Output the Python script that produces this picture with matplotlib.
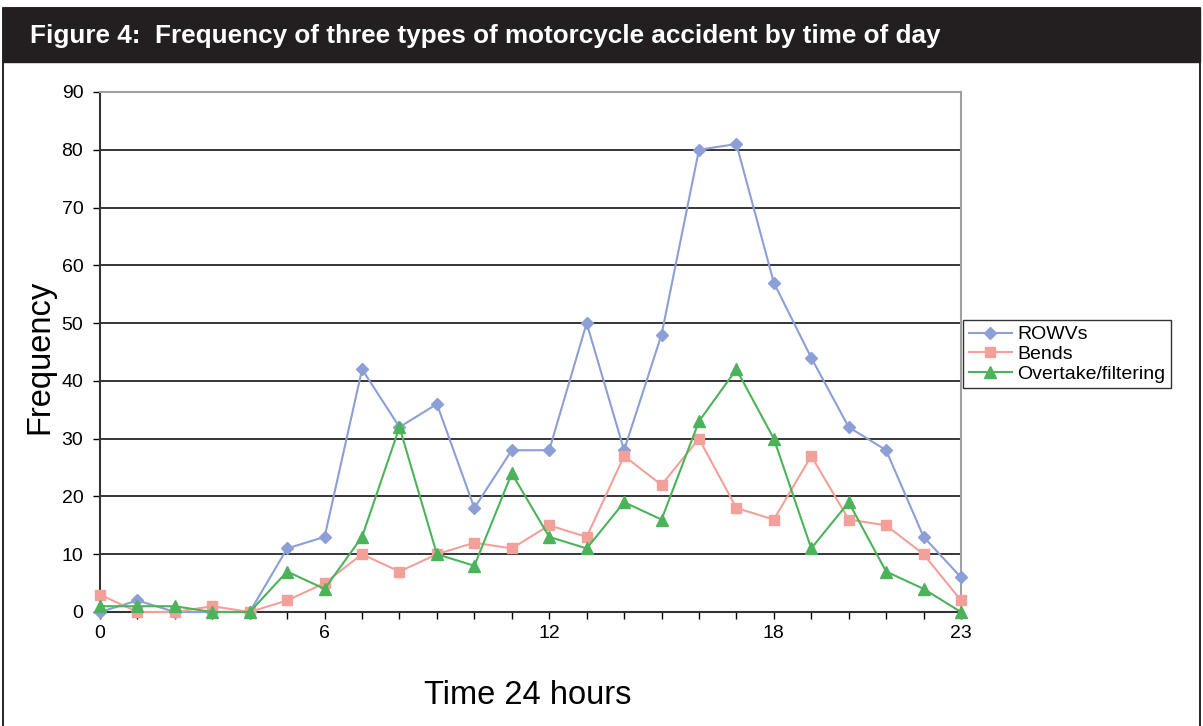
import matplotlib.pyplot as plt
from matplotlib.patches import Rectangle

# Dados
horas = list(range(24))
rowvs = [0, 2, 0, 0, 0, 11, 13, 42, 32, 36, 18, 28, 28, 50, 28, 48, 80, 81, 57, 44, 32, 28, 13, 6]
bends = [3, 0, 0, 1, 0, 2, 5, 10, 7, 10, 12, 11, 15, 13, 27, 22, 30, 18, 16, 27, 16, 15, 10, 2]
overtake = [1, 1, 1, 0, 0, 7, 4, 13, 32, 10, 8, 24, 13, 11, 19, 16, 33, 42, 30, 11, 19, 7, 4, 0]
rotulos_x = {0: "0", 6: "6", 12: "12", 18: "18", 23: "23"}

plt.rcParams["font.family"] = ["Liberation Sans", "DejaVu Sans"]

W, H = 1203, 726
fig = plt.figure(figsize=(W / 100, H / 100), dpi=100)

# Moldura e barra de titulo
fig.patches.append(Rectangle((3 / W, -0.01), (1197 / W), 1 - 8 / H + 0.01, transform=fig.transFigure,
                             fill=False, edgecolor="black", linewidth=1.2))
fig.patches.append(Rectangle((3 / W, 1 - 62 / H), 1197 / W, 54 / H, transform=fig.transFigure,
                             facecolor="#231f20", edgecolor="#231f20"))
fig.text(30 / W, 1 - 36 / H, "Figure 4:  Frequency of three types of motorcycle accident by time of day",
         color="white", fontsize=18.8, fontweight="bold", va="center", ha="left")

ax = fig.add_axes([100 / W, 1 - 612 / H, 861 / W, 520 / H])
l1, = ax.plot(horas, rowvs, color="#8c9fd6", marker="D", markersize=6.5, linewidth=1.5,
              label="ROWVs", clip_on=False, zorder=4)
l2, = ax.plot(horas, bends, color="#f4a09a", marker="s", markersize=7, linewidth=1.5,
              label="Bends", clip_on=False, zorder=4)
l3, = ax.plot(horas, overtake, color="#4db35a", marker="^", markersize=8, linewidth=1.5,
              label="Overtake/filtering", clip_on=False, zorder=4)

ax.set_xlim(0, 23)
ax.set_ylim(0, 90)
ax.set_yticks(range(0, 91, 10))
ax.set_xticks(horas)
ax.set_xticklabels([rotulos_x.get(h, "") for h in horas], fontsize=14)
ax.set_yticklabels([str(v) for v in range(0, 91, 10)], fontsize=14)
ax.tick_params(axis="both", direction="out", length=5, width=1, colors="black")
ax.tick_params(axis="x", pad=4)
ax.tick_params(axis="y", pad=7)
ax.yaxis.grid(True, color="black", linewidth=1.1)
ax.set_axisbelow(True)
ax.spines["top"].set_color("#a0a0a0")
ax.spines["right"].set_color("#a0a0a0")
ax.spines["top"].set_linewidth(1.5)
ax.spines["right"].set_linewidth(1.5)
ax.spines["left"].set_color("#333333")
ax.spines["bottom"].set_color("#333333")
ax.spines["left"].set_linewidth(1.5)
ax.spines["bottom"].set_linewidth(1.5)

fig.text(40 / W, 1 - 357 / H, "Frequency", fontsize=23.5, rotation=90, va="center", ha="center")
fig.text(528 / W, 1 - 695 / H, "Time 24 hours", fontsize=23.5, va="center", ha="center")

leg = fig.legend(handles=[l1, l2, l3], loc="upper left", bbox_to_anchor=(963 / W, 1 - 320 / H),
                 fontsize=14, frameon=True, fancybox=False, borderpad=0.3, labelspacing=0.1,
                 handlelength=2.2, handletextpad=0.3, borderaxespad=0)
leg.get_frame().set_edgecolor("black")
leg.get_frame().set_linewidth(1)

plt.savefig("out.png", dpi=100)
